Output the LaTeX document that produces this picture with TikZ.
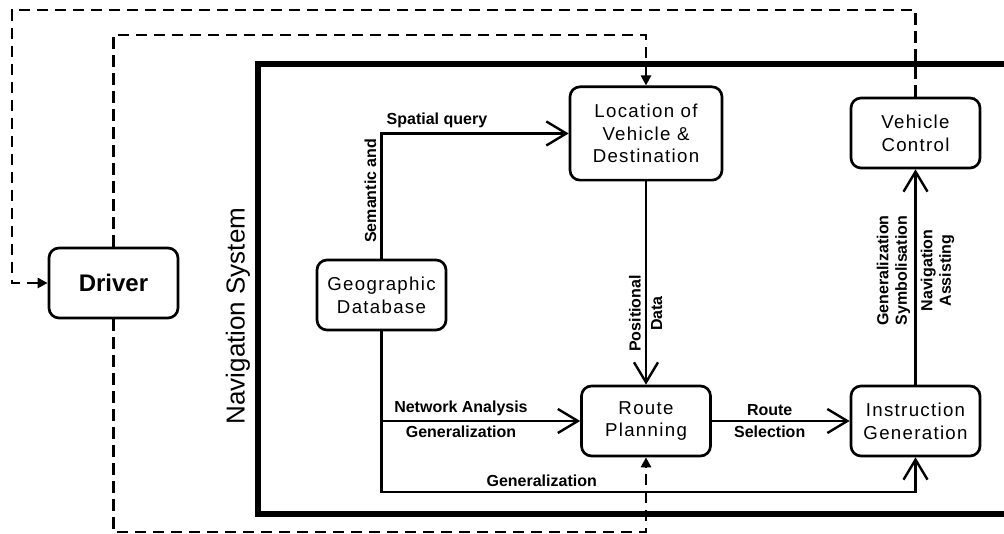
\documentclass[tikz,border=0pt]{standalone}
\usepackage{fontspec}
\setmainfont{Liberation Sans}
\newfontfamily\boxfont[LetterSpace=7]{Liberation Sans}
\usetikzlibrary{arrows.meta}

\begin{document}
\begin{tikzpicture}[x=0.75pt,y=-0.75pt,
    block/.style={draw,line width=2pt,rounded corners=7.5pt,minimum width=96.75pt,
      minimum height=52.5pt,align=center,inner sep=2pt,font=\boxfont\fontsize{14}{17}\selectfont},
    lbl/.style={font=\bfseries\fontsize{12}{14}\selectfont,inner sep=3pt,align=center},
    flow/.style={line width=1.8pt,-{Straight Barb[length=15pt,width=18pt]}},
    fb/.style={line width=2pt,dash pattern=on 8.5pt off 5pt,-{Triangle[length=7.5pt,width=7.5pt]}}]
  \useasboundingbox (0,0) rectangle (1004,534);
  \clip (0,0) rectangle (1004,534);

  % navigation system frame
  \draw[line width=4pt] (258,64) rectangle (1015,514);
  \node[rotate=90,font=\fontsize{19.5}{22}\selectfont] (navsys) at (238,316) {Navigation System};

  \node[block,font=\bfseries\fontsize{18}{21}\selectfont] (driver) at (113.5,283) {Driver};
  \node[block] (geo) at (381.5,295) {Geographic\\Database};
  \node[block,minimum width=114pt,minimum height=70pt] (loc) at (646,133.5) {Location of\\Vehicle \&\\Destination};
  \node[block] (ctrl) at (915.5,133) {Vehicle\\Control};
  \node[block] (route) at (646,421) {Route\\Planning};
  \node[block] (instr) at (915.5,421) {Instruction\\Generation};

  \coordinate (gbend) at (381.5,492);
  \coordinate (otop) at (12,10);
  \coordinate (itop) at (113.5,35);
  \coordinate (ibot) at (113.5,532);

  \draw[flow] (geo.north) |- node[lbl,pos=0.5,rotate=90,anchor=south east] {Semantic and}
    node[lbl,pos=0.5,anchor=south west] {Spatial query} (loc.west);
  \draw[flow] (loc.south) -- node[lbl,pos=0.65,rotate=90,anchor=south] {Positional}
    node[lbl,pos=0.65,rotate=90,anchor=north] {Data} (route.north);
  \draw[flow] (geo.south) |- node[lbl,pos=0.7,above] {Network Analysis}
    node[lbl,pos=0.7,below] {Generalization} (route.west);
  \draw[flow] (geo.south) -- (gbend) -| node[lbl,pos=0.15,above] {Generalization} (instr.south);
  \draw[flow] (route.east) -- node[lbl,pos=0.42,above] {Route}
    node[lbl,pos=0.42,below] {Selection} (instr.west);
  \draw[flow] (instr.north) -- node[lbl,pos=0.53,rotate=90,anchor=south] {Generalization\\Symbolisation}
    node[lbl,pos=0.53,rotate=90,anchor=north] {Navigation\\Assisting} (ctrl.south);

  % driver feedback
  \draw[fb] (ctrl.north) |- (otop) |- (driver.west);
  \draw[fb] (driver.north) -- (itop) -| (loc.north);
  \draw[fb] (driver.south) -- (ibot) -| (route.south);
\end{tikzpicture}
\end{document}
